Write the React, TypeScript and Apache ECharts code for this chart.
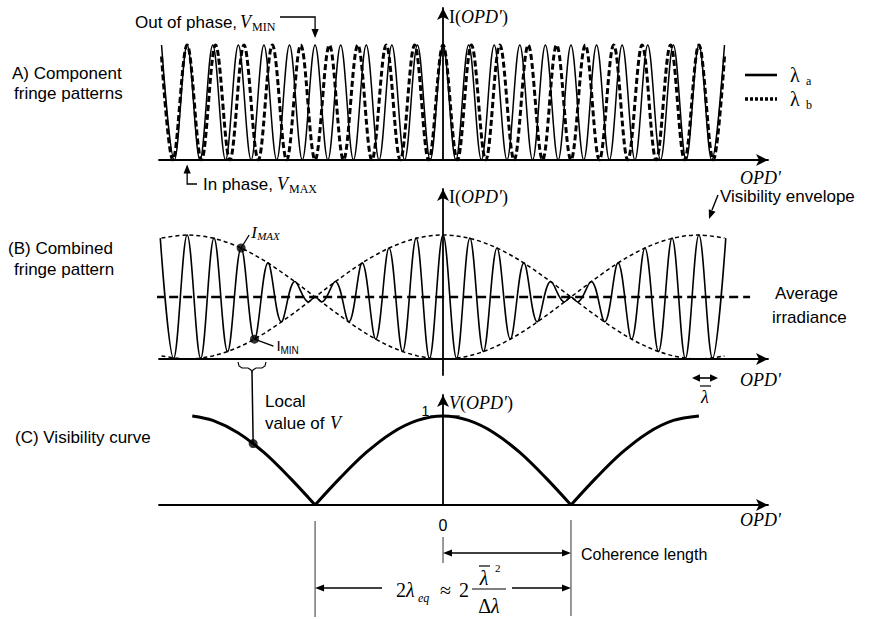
import React, { useEffect, useRef } from "react";
import * as echarts from "echarts";

// ---------- Panel A: component fringe patterns (x in units of λa, OPD' = 0 at centre) ----------
const lambdaAPeakX = [-11, -10, -9, -8, -7, -6, -5, -4, -3, -2, -1, 0, 1, 2, 3, 4, 5, 6, 7, 8, 9, 10, 11];
const lambdaATroughX = [-10.5, -9.5, -8.5, -7.5, -6.5, -5.5, -4.5, -3.5, -2.5, -1.5, -0.5, 0.5, 1.5, 2.5, 3.5, 4.5, 5.5, 6.5, 7.5, 8.5, 9.5, 10.5];
const lambdaBPeakX = [-10, -8.89, -7.78, -6.67, -5.56, -4.44, -3.33, -2.22, -1.11, 0, 1.11, 2.22, 3.33, 4.44, 5.56, 6.67, 7.78, 8.89, 10];
const lambdaBTroughX = [-10.56, -9.44, -8.33, -7.22, -6.11, -5, -3.89, -2.78, -1.67, -0.56, 0.56, 1.67, 2.78, 3.89, 5, 6.11, 7.22, 8.33, 9.44, 10.56];
const lambdaBEndX = [-11, 11];
const lambdaBEndI = [0.9, 0.9];

// ---------- Panel B: combined fringe pattern ----------
const fringeX = [-11.05, -10.53, -10.0, -9.47, -8.95, -8.42, -7.89, -7.37, -6.84, -6.32, -5.79, -5.26, -5.0, -4.74, -4.21, -3.68, -3.16, -2.63, -2.11, -1.58, -1.05, -0.53, 0, 0.53, 1.05, 1.58, 2.11, 2.63, 3.16, 3.68, 4.21, 4.74, 5.0, 5.26, 5.79, 6.32, 6.84, 7.37, 7.89, 8.42, 8.95, 9.47, 10.0, 10.53, 11.05];
const fringeI = [1.95, 0.01, 2.0, 0.01, 1.95, 0.12, 1.79, 0.32, 1.55, 0.6, 1.25, 0.92, 1.0, 0.92, 1.25, 0.6, 1.55, 0.32, 1.79, 0.12, 1.95, 0.01, 2.0, 0.01, 1.95, 0.12, 1.79, 0.32, 1.55, 0.6, 1.25, 0.92, 1.0, 0.92, 1.25, 0.6, 1.55, 0.32, 1.79, 0.12, 1.95, 0.01, 2.0, 0.01, 1.95];
const envelopeX = [-11, -10, -9, -8, -7, -6, -5, -4, -3, -2, -1, 0, 1, 2, 3, 4, 5, 6, 7, 8, 9, 10, 11];
const envelopeA = [0.05, 0, 0.05, 0.19, 0.41, 0.69, 1.0, 1.31, 1.59, 1.81, 1.95, 2.0, 1.95, 1.81, 1.59, 1.31, 1.0, 0.69, 0.41, 0.19, 0.05, 0, 0.05];
const envelopeB = [1.95, 2.0, 1.95, 1.81, 1.59, 1.31, 1.0, 0.69, 0.41, 0.19, 0.05, 0, 0.05, 0.19, 0.41, 0.69, 1.0, 1.31, 1.59, 1.81, 1.95, 2.0, 1.95];
const averageX = [-11.25, 12.0];
const averageIrradiance = 1.0;
const iMaxPoint = [-7.89, 1.79];
const iMinPoint = [-7.37, 0.32];

// ---------- Panel C: visibility curve ----------
const visX = [-9.8, -9, -8, -7, -6, -5, -4, -3, -2, -1, 0, 1, 2, 3, 4, 5, 6, 7, 8, 9, 10];
const visV = [1.0, 0.95, 0.81, 0.59, 0.31, 0, 0.31, 0.59, 0.81, 0.95, 1.0, 0.95, 0.81, 0.59, 0.31, 0, 0.31, 0.59, 0.81, 0.95, 1.0];
const localVPoint = [-7.42, 0.69];
const coherenceX = [0, 5];
const doubleLambdaEqX = [-5, 5];

const SANS = "'Liberation Sans', Arial, sans-serif";
const SERIF = "'Liberation Serif', 'Times New Roman', serif";

const X_MIN = -11.1;
const X_MAX = 12.7;

function txt(x: number, y: number, text: string, size: number, o: any = {}) {
  return {
    type: "text",
    x,
    y,
    silent: true,
    z: 100,
    style: {
      text,
      fill: o.color || "#000",
      fontFamily: o.serif ? SERIF : SANS,
      fontSize: size,
      fontStyle: o.italic ? "italic" : "normal",
      align: o.align || "left",
      verticalAlign: "middle",
      textAlign: o.align || "left",
      textVerticalAlign: "middle",
    },
  };
}

function richTxt(x: number, y: number, text: string, rich: any, align = "left") {
  return {
    type: "text",
    x,
    y,
    silent: true,
    z: 100,
    style: { text, rich, fill: "#000", align, verticalAlign: "middle", textAlign: align, textVerticalAlign: "middle" },
  };
}

function seg(x1: number, y1: number, x2: number, y2: number, w = 1.3, color = "#000") {
  return { type: "line", silent: true, z: 100, shape: { x1, y1, x2, y2 }, style: { stroke: color, lineWidth: w } };
}

function poly(points: number[][], w = 1.3, color = "#000") {
  return { type: "polyline", silent: true, z: 100, shape: { points }, style: { stroke: color, lineWidth: w, fill: null } };
}

function head(tipX: number, tipY: number, fromX: number, fromY: number, len = 9, half = 3.6, color = "#000") {
  const dx = tipX - fromX;
  const dy = tipY - fromY;
  const L = Math.sqrt(dx * dx + dy * dy) || 1;
  const ux = dx / L;
  const uy = dy / L;
  const bx = tipX - ux * len;
  const by = tipY - uy * len;
  return {
    type: "polygon",
    silent: true,
    z: 101,
    shape: { points: [[tipX, tipY], [bx - uy * half, by + ux * half], [bx + uy * half, by - ux * half]] },
    style: { fill: color, stroke: null },
  };
}

export default function App() {
  const ref = useRef<HTMLDivElement>(null);

  useEffect(() => {
    const chart = echarts.init(ref.current as HTMLDivElement, null, { renderer: "svg" });

    const solidA = [
      ...lambdaAPeakX.map((x) => [x, 1]),
      ...lambdaATroughX.map((x) => [x, 0]),
    ].sort((a, b) => a[0] - b[0]);
    const dashedB = [
      ...lambdaBPeakX.map((x) => [x, 1]),
      ...lambdaBTroughX.map((x) => [x, 0]),
      ...lambdaBEndX.map((x, i) => [x, lambdaBEndI[i]]),
    ].sort((a, b) => a[0] - b[0]);
    const fringe = fringeX.map((x, i) => [x, fringeI[i]]);
    const envA = envelopeX.map((x, i) => [x, envelopeA[i]]);
    const envB = envelopeX.map((x, i) => [x, envelopeB[i]]);
    const avg = averageX.map((x) => [x, averageIrradiance]);

    // visibility curve split at its zeros (cusps)
    const visSegments: number[][][] = [];
    let cur: number[][] = [];
    visX.forEach((x, i) => {
      cur.push([x, visV[i]]);
      if (visV[i] === 0 && cur.length > 1) {
        visSegments.push(cur);
        cur = [[x, visV[i]]];
      }
    });
    if (cur.length > 1) visSegments.push(cur);

    const axisLineStyle = { color: "#000", width: 1.8 };
    const mkX = (g: number) => ({
      type: "value",
      gridIndex: g,
      min: X_MIN,
      max: X_MAX,
      axisLine: { show: true, onZero: true, symbol: ["none", "arrow"], symbolSize: [9, 12], lineStyle: axisLineStyle },
      axisTick: { show: false },
      axisLabel: { show: false },
      splitLine: { show: false },
    });
    const mkY = (g: number, min: number, max: number) => ({
      type: "value",
      gridIndex: g,
      min,
      max,
      axisLine: { show: true, onZero: true, symbol: ["none", "arrow"], symbolSize: [9, 12], lineStyle: axisLineStyle },
      axisTick: { show: false },
      axisLabel: { show: false },
      splitLine: { show: false },
    });

    const lineS = (g: number, data: number[][], w: number, type: any = "solid", smooth = 0.36, extra: any = {}) => ({
      type: "line",
      xAxisIndex: g,
      yAxisIndex: g,
      data,
      smooth,
      symbol: "none",
      showSymbol: false,
      silent: true,
      lineStyle: { color: "#000", width: w, type, cap: "butt" },
      ...extra,
    });

    const grid = (top: number, height: number) => ({ left: 159, right: 102, top, height, outerBoundsMode: "none", containLabel: false });

    chart.setOption({
      animation: false,
      backgroundColor: "#fff",
      grid: [grid(8, 152), grid(189, 186), grid(395, 110)],
      xAxis: [mkX(0), mkX(1), mkX(2)],
      yAxis: [mkY(0, 0, 152 / 115), mkY(1, -16 / 62, (186 - 16) / 62), mkY(2, 0, 110 / 89)],
      series: [
        lineS(0, solidA, 1.5),
        lineS(0, dashedB, 3, [6, 3]),
        lineS(1, fringe, 1.6),
        lineS(1, envA, 1.5, [4, 3], 0.33),
        lineS(1, envB, 1.5, [4, 3], 0.33),
        lineS(1, avg, 2.4, [9, 5], 0, { clip: false }),
        {
          type: "scatter",
          xAxisIndex: 1,
          yAxisIndex: 1,
          data: [iMaxPoint, iMinPoint],
          symbolSize: 9,
          itemStyle: { color: "#000" },
          silent: true,
          z: 5,
        },
        ...visSegments.map((s) => lineS(2, s, 3, "solid", 0.33)),
        {
          type: "scatter",
          xAxisIndex: 2,
          yAxisIndex: 2,
          data: [localVPoint],
          symbolSize: 9,
          itemStyle: { color: "#000" },
          silent: true,
          z: 5,
        },
      ],
    });

    const p = (g: number, x: number, y: number) => chart.convertToPixel({ gridIndex: g }, [x, y]) as number[];

    const g: any[] = [];
    const opdRich = {
      r: { fontFamily: SERIF, fontSize: 18, fill: "#000" },
      i: { fontFamily: SERIF, fontSize: 18, fontStyle: "italic", fill: "#000" },
    };

    // ---- Panel A ----
    const a0 = p(0, 0, 0);
    g.push(richTxt(a0[0] + 6, 17, "{r|I(}{i|OPD′}{r|)}", opdRich));
    g.push(txt(740, 178, "OPD'", 18, { serif: true, italic: true }));
    g.push(txt(12, 73, "A) Component", 17));
    g.push(txt(14, 93, "fringe patterns", 17));
    // out of phase
    g.push(txt(135, 22, "Out of phase,", 17));
    g.push(txt(240, 22, "V", 18, { serif: true, italic: true }));
    g.push(txt(252, 27, "MIN", 12, { serif: true }));
    const outTip = p(0, -5, 1.06);
    g.push(poly([[280, 17], [outTip[0], 17], [outTip[0], outTip[1] - 2]], 1.3));
    g.push(head(outTip[0], outTip[1], outTip[0], 17, 9, 3.6));
    // in phase
    const inTip = p(0, -10, -0.04);
    g.push(poly([[197, 184], [inTip[0], 184], [inTip[0], inTip[1] + 2]], 1.3));
    g.push(head(inTip[0], inTip[1], inTip[0], 184, 9, 3.6));
    g.push(txt(203, 184, "In phase,", 17));
    g.push(txt(277, 184, "V", 18, { serif: true, italic: true }));
    g.push(txt(289, 189, "MAX", 12, { serif: true }));
    // legend
    g.push(seg(745, 75, 777, 75, 2.6));
    g.push(txt(790, 75, "λ", 20, { serif: true }));
    g.push(txt(806, 81, "a", 12, { serif: true }));
    g.push({ ...seg(745, 99, 777, 99, 3.5), style: { stroke: "#000", lineWidth: 3.5, lineDash: [3, 2] } });
    g.push(txt(790, 99, "λ", 20, { serif: true }));
    g.push(txt(806, 105, "b", 12, { serif: true }));

    // ---- Panel B ----
    const b0 = p(1, 0, 0);
    g.push(richTxt(b0[0] + 6, 197, "{r|I(}{i|OPD′}{r|)}", opdRich));
    g.push(txt(740, 380, "OPD'", 18, { serif: true, italic: true }));
    g.push(txt(8, 248, "(B) Combined", 17));
    g.push(txt(14, 269, "fringe pattern", 17));
    g.push(txt(720, 196, "Visibility envelope", 17));
    g.push(seg(718, 195, 712, 210, 1.4));
    g.push(head(709, 219, 718, 195, 9, 3.6));
    g.push(txt(775, 293, "Average", 17));
    g.push(txt(772, 317, "irradiance", 17));
    const im = p(1, iMaxPoint[0], iMaxPoint[1]);
    g.push(seg(im[0], im[1], im[0] + 8, im[1] - 13, 1.3));
    g.push(txt(im[0] + 10, im[1] - 16, "I", 17, { serif: true, italic: true }));
    g.push(txt(im[0] + 16, im[1] - 12, "MAX", 11, { serif: true, italic: true }));
    const imn = p(1, iMinPoint[0], iMinPoint[1]);
    g.push(seg(imn[0], imn[1], imn[0] + 19, imn[1] + 7, 1.3));
    g.push(txt(imn[0] + 22, imn[1] + 6, "I", 15));
    g.push(txt(imn[0] + 26, imn[1] + 11, "MIN", 10));
    // lambda bar double arrow
    g.push(seg(698, 378, 712, 378, 1.6));
    g.push(head(692, 378, 712, 378, 8, 3.8));
    g.push(head(718, 378, 698, 378, 8, 3.8));
    g.push(txt(705, 397, "λ", 18, { serif: true, italic: true, align: "center" }));
    g.push(seg(700, 386, 711, 386, 1.2));

    // ---- Panel C ----
    const c0 = p(2, 0, 0);
    g.push(richTxt(c0[0] + 6, 403, "{i|V}{r|(}{i|OPD′}{r|)}", opdRich));
    g.push(txt(740, 520, "OPD'", 18, { serif: true, italic: true }));
    g.push(txt(15, 437, "(C) Visibility curve", 17));
    const t1a = p(2, -0.5, 1);
    const t1b = p(2, 0.65, 1);
    g.push(seg(t1a[0], t1a[1], t1b[0], t1b[1], 1.2));
    g.push(txt(t1a[0] - 1, t1a[1] - 5, "1", 14, { align: "right" }));
    g.push(txt(265, 401, "Local", 17));
    g.push(txt(265, 423, "value of", 17));
    g.push(txt(330, 423, "V", 18, { serif: true, italic: true }));
    // bracket and leader to local V
    g.push(
      poly(
        [
          [238, 362], [239, 366], [242, 368], [248, 368], [251, 370], [252, 372], [253, 370], [256, 368], [262, 368], [265, 366], [266, 362],
        ],
        1.1
      )
    );
    const lv = p(2, localVPoint[0], localVPoint[1]);
    g.push(seg(252, 372, lv[0], lv[1], 1.5));
    g.push(txt(c0[0], 525, "0", 16, { align: "center" }));

    // dimension lines
    const xm5 = p(2, doubleLambdaEqX[0], 0)[0];
    const xp5 = p(2, doubleLambdaEqX[1], 0)[0];
    const xc = p(2, coherenceX[0], 0)[0];
    const xch = p(2, coherenceX[1], 0)[0];
    g.push(seg(xm5, 521, xm5, 617, 1.2, "#555"));
    g.push(seg(xp5, 520, xp5, 616, 1.2, "#555"));
    g.push(seg(xc, 537, xc, 563, 1.2, "#555"));
    g.push(seg(xc + 6, 553, xch - 6, 553, 1.3));
    g.push(head(xc, 553, xch, 553, 9, 3.6));
    g.push(head(xch, 553, xc, 553, 9, 3.6));
    g.push(txt(xch + 10, 554, "Coherence length", 16));
    g.push(seg(xm5 + 6, 588, 382, 588, 1.3));
    g.push(head(xm5, 588, 382, 588, 9, 3.6));
    g.push(seg(512, 588, xp5 - 6, 588, 1.3));
    g.push(head(xp5, 588, 512, 588, 9, 3.6));
    // formula 2λeq ≈ 2 λ̄²/Δλ
    g.push(txt(396, 590, "2", 20, { serif: true }));
    g.push(txt(406, 590, "λ", 20, { serif: true, italic: true }));
    g.push(txt(418, 598, "eq", 12, { serif: true, italic: true }));
    g.push(txt(440, 590, "≈", 20, { serif: true }));
    g.push(txt(459, 590, "2", 20, { serif: true }));
    g.push(seg(472, 589, 506, 589, 1.2));
    g.push(txt(484, 578, "λ", 20, { serif: true, italic: true, align: "center" }));
    g.push(seg(479, 566, 490, 566, 1.2));
    g.push(txt(495, 568, "2", 11, { serif: true }));
    g.push(
      richTxt(489, 606, "{r|Δ}{i|λ}", {
        r: { fontFamily: SERIF, fontSize: 20, fill: "#000" },
        i: { fontFamily: SERIF, fontSize: 20, fontStyle: "italic", fill: "#000" },
      }, "center")
    );

    chart.setOption({ graphic: g });

    return () => {
      chart.dispose();
    };
  }, []);

  return <div ref={ref} style={{ position: "absolute", left: 0, top: 0, width: 870, height: 619 }} />;
}
